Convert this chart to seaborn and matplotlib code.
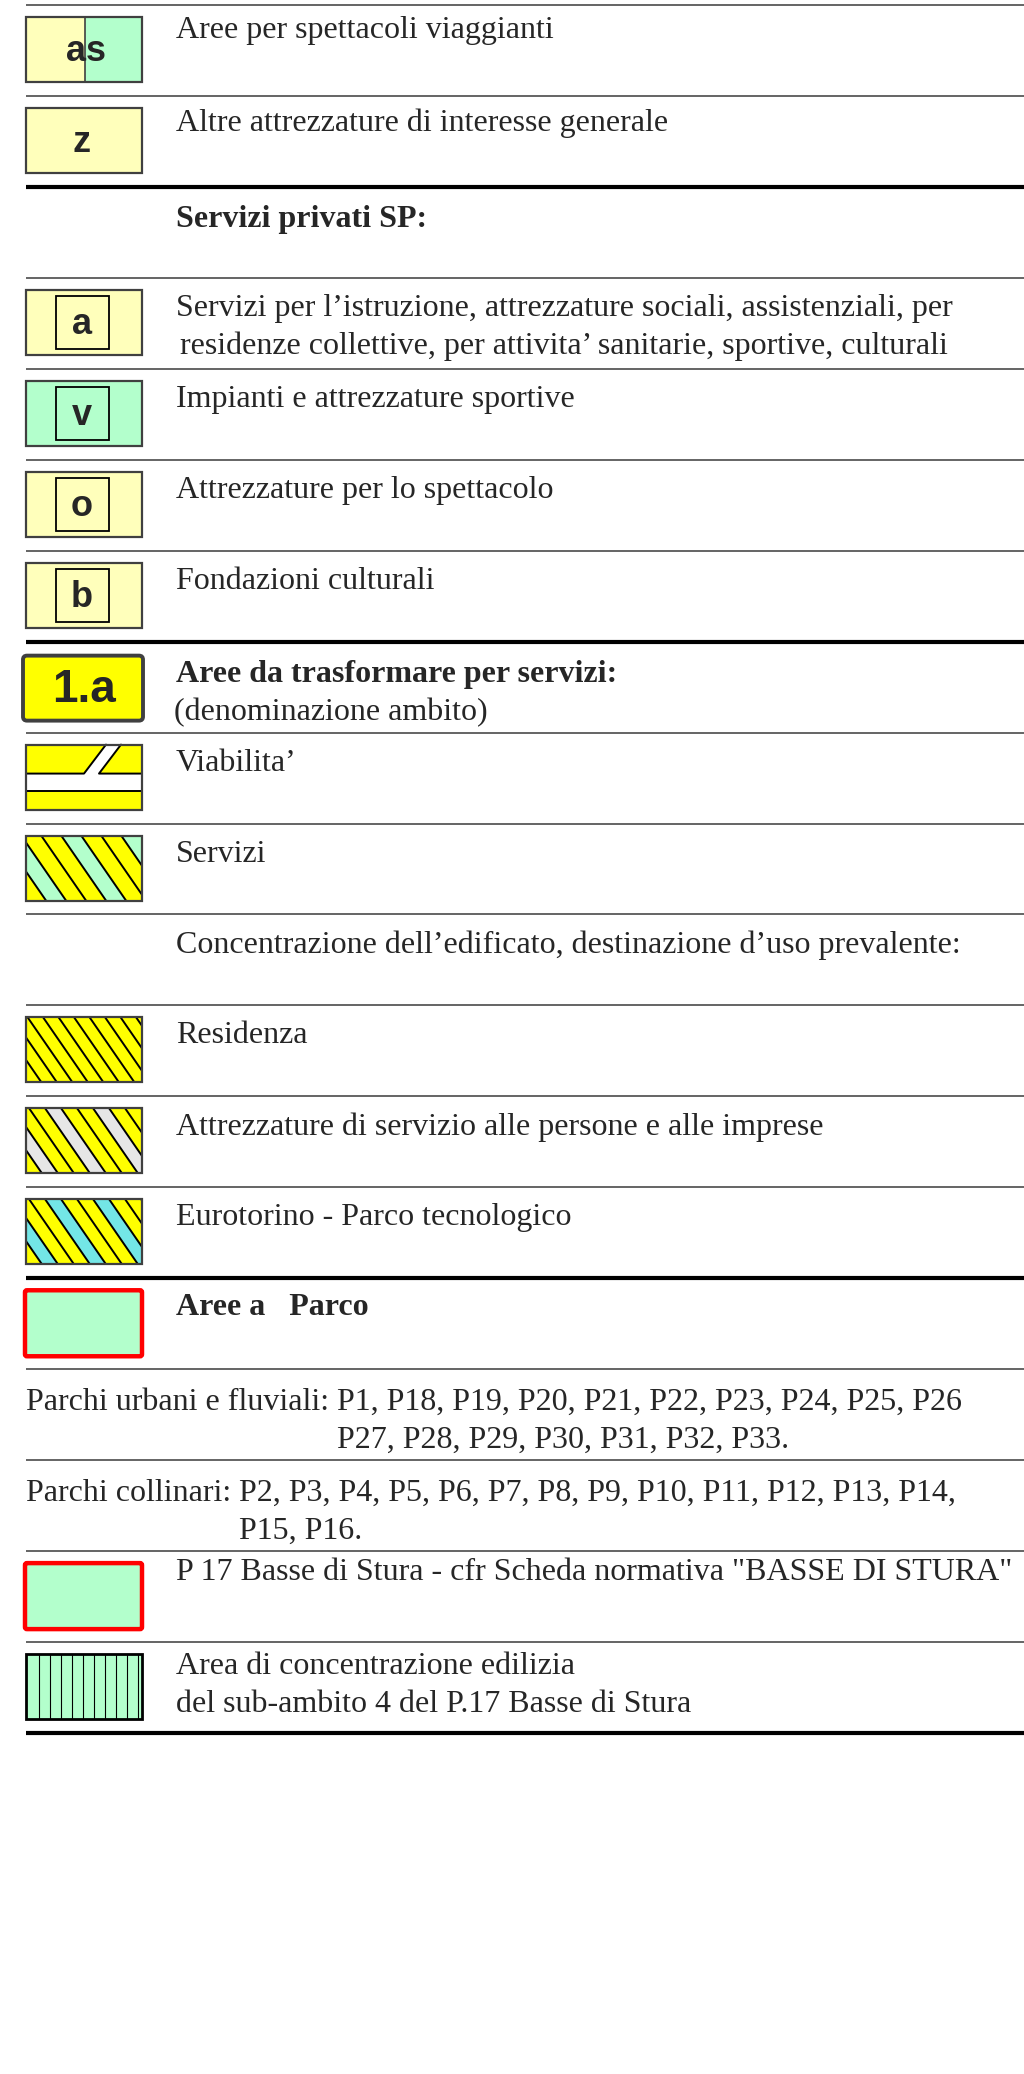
"""
Legend sheet: services and park areas (PRG Torino style).
"""

import matplotlib
matplotlib.use("Agg")
import matplotlib.pyplot as plt
import seaborn as sns
from matplotlib.patches import Rectangle, Polygon, FancyBboxPatch

# ---- legend content, top to bottom ----
row_labels = [
    "Aree per spettacoli viaggianti",
    "Altre attrezzature di interesse generale",
    "Servizi privati SP:",
    "Servizi per l\u2019istruzione, attrezzature sociali, assistenziali, per\n"
    "residenze collettive, per attivita\u2019 sanitarie, sportive, culturali",
    "Impianti e attrezzature sportive",
    "Attrezzature per lo spettacolo",
    "Fondazioni culturali",
    "Aree da trasformare per servizi:",
    "Viabilita\u2019",
    "Servizi",
    "Concentrazione dell\u2019edificato, destinazione d\u2019uso prevalente:",
    "Residenza",
    "Attrezzature di servizio alle persone e alle imprese",
    "Eurotorino - Parco tecnologico",
    "Aree a   Parco",
    "Parchi urbani e fluviali: ",
    "Parchi collinari: ",
    "P 17 Basse di Stura - cfr Scheda normativa \"BASSE DI STURA\"",
    "Area di concentrazione edilizia\ndel sub-ambito 4 del P.17 Basse di Stura",
]
row_symbols = ["as", "z", None, "a", "v", "o", "b", "1.a", "road", "servizi",
               None, "residenza", "attrezzature", "eurotorino", "parco",
               None, None, "parco", "vlines"]
bold_rows = [2, 7, 14]
centered_rows = [3]
sub_labels = {7: "(denominazione ambito)"}
park_lists = {
    15: "P1, P18, P19, P20, P21, P22, P23, P24, P25, P26\n"
        "P27, P28, P29, P30, P31, P32, P33.",
    16: "P2, P3, P4, P5, P6, P7, P8, P9, P10, P11, P12, P13, P14,\n"
        "P15, P16.",
}
heavy_lines = [2, 7, 14, 19]

# ---- colours ----
PALE_Y = "#FFFFBB"
PALE_G = "#B3FFCC"
YELLOW = "#FFFF00"
GREY = "#E6E6E6"
CYAN = "#73E6E6"
EDGE = "#404040"

stripe_styles = {
    "servizi": dict(period=20, colors=[YELLOW, YELLOW, PALE_G], phase=1),
    "residenza": dict(period=15.5, colors=[YELLOW], phase=0),
    "attrezzature": dict(period=16, colors=[YELLOW, YELLOW, GREY], phase=1),
    "eurotorino": dict(period=16, colors=[YELLOW, YELLOW, CYAN], phase=1),
}

# ---- style ----
sns.set_style("white")
plt.rcParams["font.family"] = ["Liberation Serif", "DejaVu Serif"]
SERIF = ["Liberation Serif", "DejaVu Serif"]
SANS = ["Liberation Sans", "DejaVu Sans"]
FS = 23
LSP = 1.4

W, H = 1024, 2074
fig = plt.figure(figsize=(W / 100, H / 100), dpi=100)
ax = fig.add_axes([0, 0, 1, 1])
ax.set_xlim(0, W)
ax.set_ylim(H, 0)
ax.axis("off")

TOP = 5
PITCH = (1733 - 5) / 19
BX, BW, BH = 26, 116, 65
TX = 176

# text drop below each separator (px), rows not listed use the default
text_drop = {0: 11, 1: 13, 2: 18, 7: 18, 14: 15, 15: 19, 16: 19, 17: 7, 18: 10}
DEFAULT_DROP = 16


def border(x0, y0, w, h, color=EDGE, lw=1.6):
    ax.add_patch(Rectangle((x0, y0), w, h, facecolor="none",
                           edgecolor=color, lw=lw, zorder=5))


def striped_box(x0, y0, w, h, period, colors, phase, slope=1.45):
    clip = Rectangle((x0, y0), w, h, facecolor="none", edgecolor="none")
    ax.add_patch(clip)
    run = h / slope
    c = x0 - run - 3 * period
    k = phase
    while c < x0 + w + period:
        poly = Polygon([(c, y0), (c + period, y0), (c + period + run, y0 + h),
                        (c + run, y0 + h)], closed=True,
                       facecolor=colors[k % len(colors)], edgecolor="none")
        ax.add_patch(poly)
        poly.set_clip_path(clip)
        ln, = ax.plot([c, c + run], [y0, y0 + h], color="black", lw=1.4,
                      solid_capstyle="butt")
        ln.set_clip_path(clip)
        c += period
        k += 1
    border(x0, y0, w, h)


def draw_symbol(kind, y0):
    cx, cy = BX + BW / 2, y0 + BH / 2
    if kind == "as":
        ax.add_patch(Rectangle((BX, y0), 59, BH, facecolor=PALE_Y, edgecolor="none"))
        ax.add_patch(Rectangle((BX + 59, y0), BW - 59, BH, facecolor=PALE_G, edgecolor="none"))
        ax.plot([BX + 59, BX + 59], [y0, y0 + BH], color=EDGE, lw=1.2)
        border(BX, y0, BW, BH)
        ax.text(cx + 2, cy + 2, "as", family=SANS, weight="bold", fontsize=26,
                ha="center", va="center")
    elif kind in ("z", "a", "v", "o", "b"):
        fill = PALE_G if kind == "v" else PALE_Y
        ax.add_patch(Rectangle((BX, y0), BW, BH, facecolor=fill, edgecolor="none"))
        border(BX, y0, BW, BH)
        if kind != "z":
            ax.add_patch(Rectangle((cx - 28, cy - 26.5), 53, 53, facecolor="none",
                                   edgecolor="black", lw=1.3, zorder=5))
        ax.text(cx - 2, cy + 2, kind, family=SANS, weight="bold", fontsize=26,
                ha="center", va="center")
    elif kind == "1.a":
        ax.add_patch(FancyBboxPatch((BX - 3, y0 + 2), BW + 4, BH,
                                    boxstyle="round,pad=0,rounding_size=4",
                                    facecolor=YELLOW, edgecolor=EDGE, lw=2.8))
        ax.text(cx, cy + 4, "1.a", family=SANS, weight="bold", fontsize=33,
                ha="center", va="center")
    elif kind == "road":
        ax.add_patch(Rectangle((BX, y0), BW, BH, facecolor=YELLOW, edgecolor="none"))
        b_top, b_bot = y0 + 29, y0 + 46
        ax.add_patch(Rectangle((BX, b_top), BW, b_bot - b_top, facecolor="white",
                               edgecolor="none"))
        ax.add_patch(Polygon([(BX + 58, b_top + 0.5), (BX + 80, y0), (BX + 95, y0),
                              (BX + 73, b_top + 0.5)], closed=True,
                             facecolor="white", edgecolor="none"))
        ax.plot([BX, BX + 58, BX + 80], [b_top, b_top, y0], color="black", lw=1.4)
        ax.plot([BX + BW, BX + 73, BX + 95], [b_top, b_top, y0], color="black", lw=1.4)
        ax.plot([BX, BX + BW], [b_bot, b_bot], color="black", lw=1.4)
        border(BX, y0, BW, BH)
    elif kind in stripe_styles:
        striped_box(BX, y0, BW, BH, **stripe_styles[kind])
    elif kind == "parco":
        ax.add_patch(FancyBboxPatch((BX - 1, y0), BW + 1, BH + 1,
                                    boxstyle="round,pad=0,rounding_size=2",
                                    facecolor=PALE_G, edgecolor="#FF0000", lw=3.2))
    elif kind == "vlines":
        ax.add_patch(Rectangle((BX, y0), BW, BH, facecolor=PALE_G, edgecolor="none"))
        x = BX + 13
        while x < BX + BW - 2:
            ax.plot([x, x], [y0, y0 + BH], color="black", lw=0.8)
            x += 11
        border(BX, y0, BW, BH, color="black", lw=2.0)


# separators
for i in range(20):
    y = TOP + i * PITCH
    if i in heavy_lines:
        ax.plot([26, W], [y, y], color="black", lw=3.0, solid_capstyle="butt")
    else:
        ax.plot([26, W], [y, y], color="#3a3a3a", lw=1.1, solid_capstyle="butt")

renderer = fig.canvas.get_renderer()

for i, (label, sym) in enumerate(zip(row_labels, row_symbols)):
    line_y = TOP + i * PITCH
    if sym is not None:
        draw_symbol(sym, line_y + 12)
    weight = "bold" if i in bold_rows else "normal"
    ty = line_y + text_drop.get(i, DEFAULT_DROP)
    if i in park_lists:
        t = ax.text(26, ty, label, fontsize=FS, family=SERIF,
                    ha="left", va="top")
        wpx = t.get_window_extent(renderer).width
        ax.text(26 + wpx, ty, park_lists[i], fontsize=FS, family=SERIF,
                ha="left", va="top", linespacing=LSP)
        continue
    ax.text(TX, ty, label, fontsize=FS, family=SERIF, weight=weight,
            ha="left", va="top", linespacing=LSP,
            multialignment="center" if i in centered_rows else "left")
    if i in sub_labels:
        ax.text(TX - 2, ty + 38, sub_labels[i], fontsize=FS, family=SERIF,
                ha="left", va="top")

fig.savefig("out.png", dpi=100, facecolor="white")
